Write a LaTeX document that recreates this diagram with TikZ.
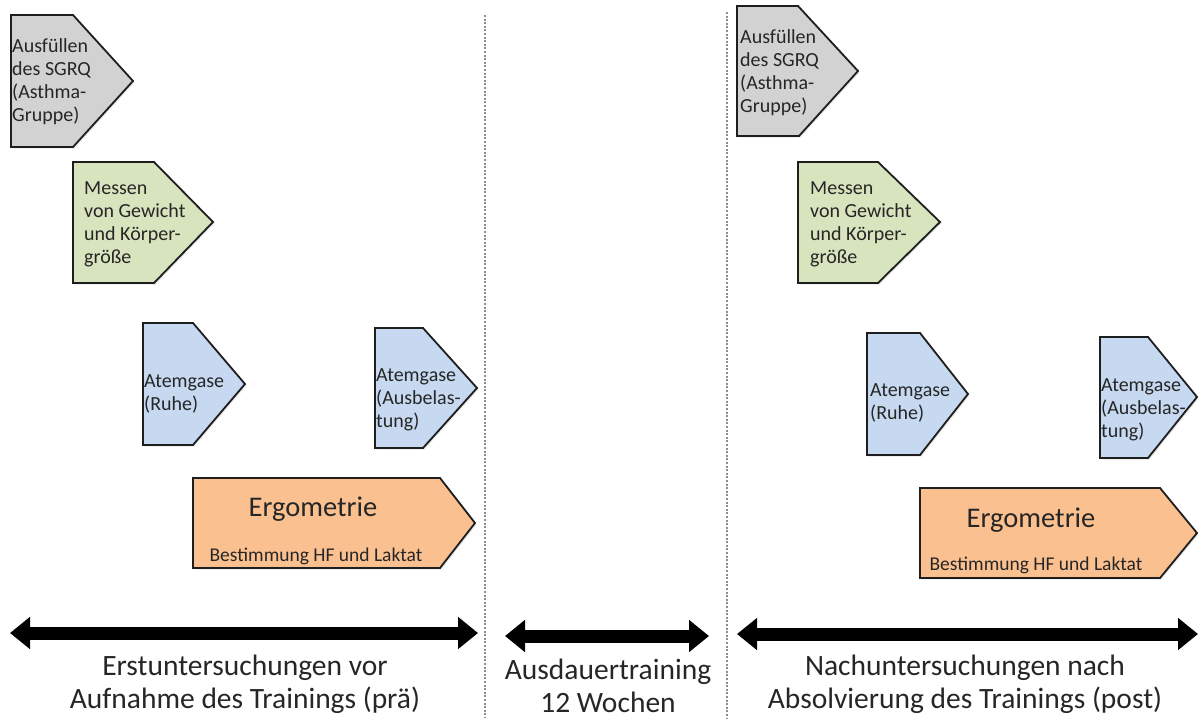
\documentclass[tikz,border=0pt]{standalone}
\usepackage{fontspec}
\setmainfont{Carlito}
\usetikzlibrary{arrows.meta,shadows}
\definecolor{greyfill}{HTML}{D2D2D2}
\definecolor{greenfill}{HTML}{D7E4BD}
\definecolor{bluefill}{HTML}{C6D9F1}
\definecolor{orangefill}{HTML}{FAC090}
\definecolor{edgecol}{HTML}{1E1E1E}
\definecolor{txtcol}{HTML}{262626}
\tikzset{
  pent/.style={draw=edgecol, line width=1.8pt, line join=miter,
    drop shadow={opacity=0.18, shadow xshift=1.5pt, shadow yshift=-1.5pt}},
  smalltxt/.style={anchor=west, align=left, inner sep=0pt, text=txtcol,
    font=\fontsize{20}{23}\selectfont},
  bigtxt/.style={align=center, inner sep=0pt, text=txtcol,
    font=\fontsize{29.5}{33}\selectfont},
  ergtxt/.style={inner sep=0pt, text=txtcol, font=\fontsize{28.5}{33}\selectfont},
  subtxt/.style={inner sep=0pt, text=txtcol, font=\fontsize{19.5}{22}\selectfont},
  sep/.style={draw=black!45, line width=1.3pt, dash pattern=on 2pt off 1.6pt},
  phase/.style={line width=13pt, draw=black,
    {Triangle[length=20pt,width=31pt]}-{Triangle[length=20pt,width=31pt]}}
}
\begin{document}
\begin{tikzpicture}[x=1pt,y=-1pt]
\useasboundingbox (0,0) rectangle (1198,718);

% separators
\coordinate (s1a) at (485,15); \coordinate (s1b) at (485,718);
\coordinate (s2a) at (727,12); \coordinate (s2b) at (727,718);
\draw[sep] (s1a) -- (s1b);
\draw[sep] (s2a) -- (s2b);

% ---------- pre ----------
\draw[pent, fill=greyfill] (11,15) -- (73,15) -- (133,81) -- (73,147) -- (11,147) -- cycle;
\node[smalltxt] (preSGRQ) at (12,82) {Ausfüllen\\des SGRQ\\(Asthma-\\Gruppe)};

\draw[pent, fill=greenfill] (73,162) -- (154,162) -- (213,222) -- (154,283) -- (73,283) -- cycle;
\node[smalltxt] (preMess) at (84,224) {Messen\\von Gewicht\\und Körper-\\größe};

\draw[pent, fill=bluefill] (143,323) -- (193,323) -- (245,384) -- (193,445) -- (143,445) -- cycle;
\node[smalltxt] (preRuhe) at (144,394) {Atemgase\\(Ruhe)};

\draw[pent, fill=bluefill] (375,328) -- (423,328) -- (477,388) -- (423,448) -- (375,448) -- cycle;
\node[smalltxt] (preAus) at (376,400) {Atemgase\\(Ausbelas-\\tung)};

\draw[pent, fill=orangefill] (193,478) -- (440,478) -- (475,523) -- (440,568) -- (193,568) -- cycle;
\node[ergtxt] (preErg) at (313,509) {Ergometrie};
\node[subtxt] (preBest) at (316,556) {Bestimmung HF und Laktat};

% ---------- post ----------
\draw[pent, fill=greyfill] (737,6) -- (798,6) -- (858,71) -- (799,136) -- (737,136) -- cycle;
\node[smalltxt] (postSGRQ) at (740,73) {Ausfüllen\\des SGRQ\\(Asthma-\\Gruppe)};

\draw[pent, fill=greenfill] (798,162) -- (878,162) -- (940,222) -- (878,283) -- (798,283) -- cycle;
\node[smalltxt] (postMess) at (810,224) {Messen\\von Gewicht\\und Körper-\\größe};

\draw[pent, fill=bluefill] (867,333) -- (920,333) -- (968,394) -- (920,455) -- (867,455) -- cycle;
\node[smalltxt] (postRuhe) at (870,403) {Atemgase\\(Ruhe)};

\draw[pent, fill=bluefill] (1100,337) -- (1148,337) -- (1197,397) -- (1148,458) -- (1100,458) -- cycle;
\node[smalltxt] (postAus) at (1101,410) {Atemgase\\(Ausbelas-\\tung)};

\draw[pent, fill=orangefill] (920,488) -- (1160,488) -- (1197,533) -- (1160,578) -- (920,578) -- cycle;
\node[ergtxt] (postErg) at (1031,520) {Ergometrie};
\node[subtxt] (postBest) at (1036,565) {Bestimmung HF und Laktat};

% ---------- phase arrows ----------
\coordinate (a1l) at (10,633); \coordinate (a1r) at (478,633);
\coordinate (a2l) at (505,636); \coordinate (a2r) at (709,636);
\coordinate (a3l) at (737,634); \coordinate (a3r) at (1198,634);
\draw[phase] (a1l) -- (a1r);
\draw[phase] (a2l) -- (a2r);
\draw[phase] (a3l) -- (a3r);

\node[bigtxt] (preLbl) at (245,684) {Erstuntersuchungen vor\\Aufnahme des Trainings (prä)};
\node[bigtxt] (midLbl) at (608,686) {Ausdauertraining\\12 Wochen};
\node[bigtxt] (postLbl) at (965,684) {Nachuntersuchungen nach\\Absolvierung des Trainings (post)};
\end{tikzpicture}
\end{document}
